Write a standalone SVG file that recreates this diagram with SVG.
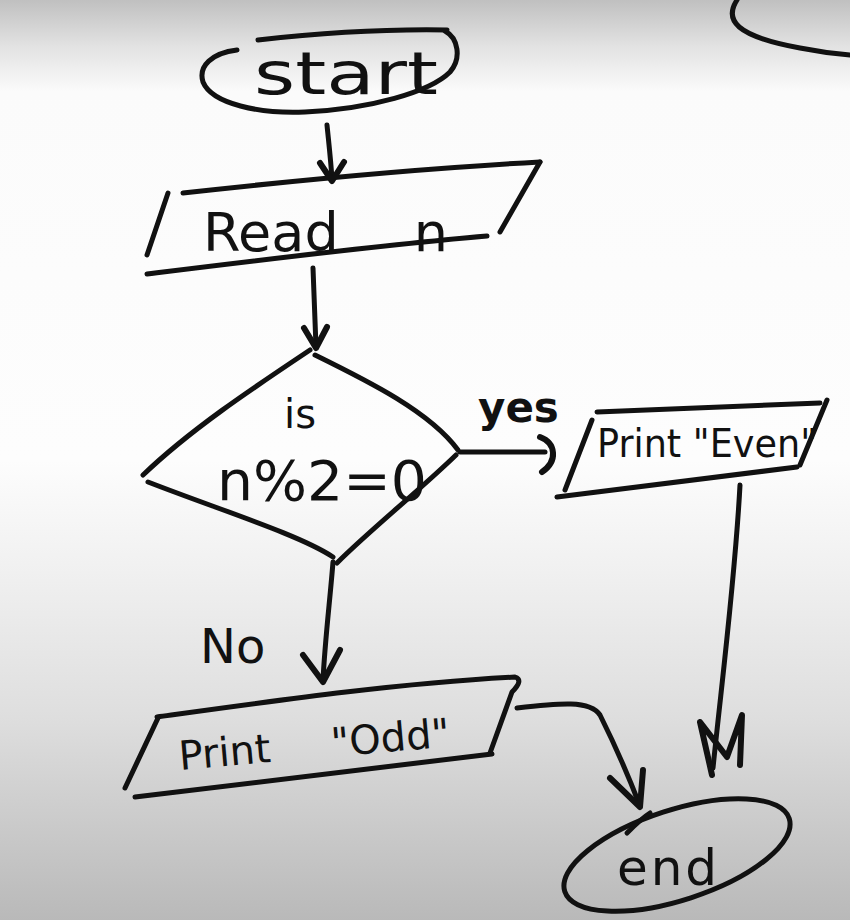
<svg xmlns="http://www.w3.org/2000/svg" width="850" height="920" viewBox="0 0 850 920">
  <defs>
    <linearGradient id="board" x1="0" y1="0" x2="0" y2="1">
      <stop offset="0" stop-color="#c0c0c0"/>
      <stop offset="0.05" stop-color="#e2e2e2"/>
      <stop offset="0.1" stop-color="#fbfbfb"/>
      <stop offset="0.5" stop-color="#fdfdfd"/>
      <stop offset="0.65" stop-color="#ededed"/>
      <stop offset="0.78" stop-color="#dedede"/>
      <stop offset="1" stop-color="#b9b9b9"/>
    </linearGradient>
  </defs>
  <style>
    .ink { fill: none; stroke: #111; stroke-width: 5; stroke-linecap: round; stroke-linejoin: round; }
    .head { fill: none; stroke: #111; stroke-width: 6; stroke-linecap: round; stroke-linejoin: round; }
    .hand { font-family: "DejaVu Sans", "Liberation Sans", sans-serif; fill: #111; }
  </style>

  <!-- whiteboard -->
  <rect width="850" height="920" fill="url(#board)"/>

  <!-- stray arc at the top right -->
  <path class="ink" d="M737,0 C724,20 735,36 800,48 C820,52 838,54 850,55"/>

  <g id="start">
    <path class="ink" d="M237,50 C212,53 198,66 203,82 C212,104 260,114 305,112 C370,109 430,92 450,72 C462,58 458,38 445,31"/>
    <path class="ink" d="M258,40 C320,33 390,29 447,30"/>
    <text class="hand" x="254" y="94" font-size="58" textLength="184" lengthAdjust="spacingAndGlyphs">start</text>
  </g>

  <g id="read-n">
    <path class="ink" d="M183,193 C300,180 430,168 540,162"/>
    <path class="ink" d="M540,162 L500,232"/>
    <path class="ink" d="M168,193 L147,255"/>
    <path class="ink" d="M147,274 C260,260 380,245 487,236"/>
    <text class="hand" x="203" y="251" font-size="54" word-spacing="58">Read n</text>
  </g>

  <g id="decision">
    <path class="ink" d="M310,350 C250,390 190,430 143,475"/>
    <path class="ink" d="M315,355 C370,382 430,412 458,450"/>
    <path class="ink" d="M456,455 C420,490 370,530 337,563"/>
    <path class="ink" d="M148,482 C220,510 300,535 333,557"/>
    <text class="hand" x="300" y="428" font-size="40" text-anchor="middle">is</text>
    <text class="hand" x="217" y="500" font-size="56" textLength="210" lengthAdjust="spacingAndGlyphs">n%2=0</text>
  </g>

  <g id="print-even">
    <path class="ink" d="M597,412 L820,403"/>
    <path class="ink" d="M827,400 L800,465"/>
    <path class="ink" d="M592,420 L565,490"/>
    <path class="ink" d="M557,497 C640,487 720,476 797,467"/>
    <text class="hand" x="597" y="457" font-size="39" textLength="220" lengthAdjust="spacingAndGlyphs">Print "Even"</text>
  </g>

  <g id="print-odd">
    <path class="ink" d="M157,717 C280,700 400,683 515,677 Q524,680 512,692 L490,753"/>
    <path class="ink" d="M158,718 L125,788"/>
    <path class="ink" d="M135,797 C260,783 380,768 492,754"/>
    <text class="hand" x="180" y="770" font-size="40" word-spacing="48" transform="rotate(-5 180 770)">Print "Odd"</text>
  </g>

  <g id="end">
    <ellipse class="ink" cx="677" cy="855" rx="118" ry="45" transform="rotate(-18 677 855)"/>
    <path class="ink" d="M627,833 C635,825 642,818 650,813" stroke-width="3"/>
    <text class="hand" x="617" y="885" font-size="50" textLength="100" lengthAdjust="spacing">end</text>
  </g>

  <g id="connectors">
    <!-- start to read -->
    <path class="ink" d="M327,125 C329,145 331,162 332,180"/>
    <path class="head" d="M320,163 L332,181 L344,162"/>
    <!-- read to decision -->
    <path class="ink" d="M313,268 C314,295 315,320 316,347"/>
    <path class="head" d="M304,328 L316,348 L327,327"/>
    <!-- yes branch -->
    <path class="ink" d="M460,452 L545,452"/>
    <path class="head" d="M540,437 C556,443 558,461 542,472"/>
    <text class="hand" x="478" y="422" font-size="42" font-weight="bold">yes</text>
    <!-- no branch -->
    <path class="ink" d="M333,562 C330,600 325,640 323,680"/>
    <path class="head" d="M303,655 L323,682 L340,650"/>
    <text class="hand" x="200" y="663" font-size="48">No</text>
    <!-- odd to end -->
    <path class="ink" d="M517,708 C560,703 590,700 600,715 C615,745 630,780 640,806"/>
    <path class="head" d="M610,778 L640,807 L643,770"/>
    <!-- even to end -->
    <path class="ink" d="M740,485 C735,580 722,680 713,768"/>
    <path class="head" d="M712,775 L700,722 L727,757 L742,715 L740,765"/>
  </g>
</svg>
